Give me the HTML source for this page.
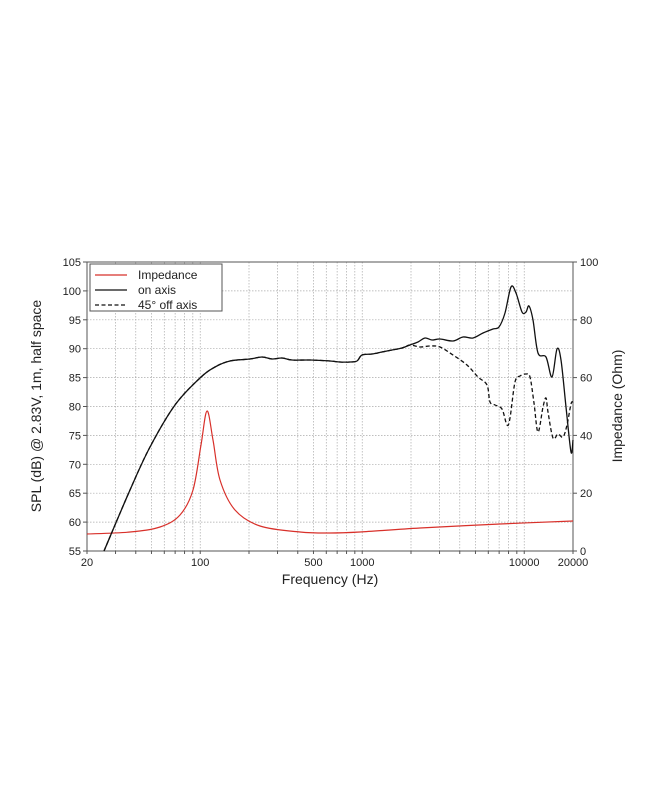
<!DOCTYPE html>
<html><head><meta charset="utf-8"><style>
body{margin:0;background:#fff;width:650px;height:794px;overflow:hidden}
svg text{font-family:"Liberation Sans",Arial,sans-serif;fill:#222}
</style></head><body>
<svg id="s" width="650" height="794" viewBox="0 0 650 794" xmlns="http://www.w3.org/2000/svg">
<g id="grid" stroke="#aaa" stroke-width="0.7" stroke-dasharray="1.5,1.5"></g>
<rect x="87" y="262" width="486" height="289" fill="none" stroke="#555" stroke-width="1"/>
<g id="ticks" stroke="#555" stroke-width="1"></g>
<g id="labels" font-size="11"></g>
<path id="red" fill="none" stroke="#d8302a" stroke-width="1.2"/>
<path id="dash" fill="none" stroke="#111" stroke-width="1.3" stroke-dasharray="4,2.5"/>
<path id="solid" fill="none" stroke="#111" stroke-width="1.3"/>
<rect x="90" y="264" width="132" height="47" fill="#fff" stroke="#555" stroke-width="1"/>
<line x1="95" y1="275" x2="127" y2="275" stroke="#d8302a" stroke-width="1.2"/>
<line x1="95" y1="290" x2="127" y2="290" stroke="#111" stroke-width="1.2"/>
<line x1="95" y1="305" x2="127" y2="305" stroke="#111" stroke-width="1.2" stroke-dasharray="4,2.5"/>
<text x="138" y="279" font-size="12">Impedance</text>
<text x="138" y="294" font-size="12">on axis</text>
<text x="138" y="309" font-size="12">45° off axis</text>
<text x="330" y="584" font-size="14" text-anchor="middle">Frequency (Hz)</text>
<text transform="translate(41,406) rotate(-90)" font-size="14" text-anchor="middle">SPL (dB) @ 2.83V, 1m, half space</text>
<text transform="translate(622,406) rotate(-90)" font-size="14" text-anchor="middle">Impedance (Ohm)</text>
</svg>
<script>
const X=f=>87+162*Math.log10(f/20), L=87,R=573,T=262,B=551;
const ns="http://www.w3.org/2000/svg";
function el(p,t,a,txt){const e=document.createElementNS(ns,t);for(const k in a)e.setAttribute(k,a[k]);if(txt!==undefined)e.textContent=txt;document.getElementById(p).appendChild(e);}
const fr=[];for(const d of [10,100,1000,10000])for(let m=1;m<10;m++){const f=d*m;if(f>=20&&f<=20000)fr.push(f);}
fr.push(20000);
fr.forEach(f=>{const x=X(f);if(x>L+1&&x<R-1)el('grid','line',{x1:x,y1:T,x2:x,y2:B});el('ticks','line',{x1:x,y1:B,x2:x,y2:B+3});});
for(let v=60;v<=100;v+=5){const y=B-(v-55)*289/50;el('grid','line',{x1:L,y1:y,x2:R,y2:y});}
for(let v=55;v<=105;v+=5){const y=B-(v-55)*289/50;el('ticks','line',{x1:L-4,y1:y,x2:L,y2:y});el('labels','text',{x:L-6,y:y+4,'text-anchor':'end'},v);}
for(let v=0;v<=100;v+=20){const y=B-v*289/100;el('ticks','line',{x1:R,y1:y,x2:R+4,y2:y});el('labels','text',{x:R+7,y:y+4},v);}
[[20,'20'],[100,'100'],[500,'500'],[1000,'1000'],[10000,'10000'],[20000,'20000']].forEach(([f,t])=>el('labels','text',{x:X(f),y:566,'text-anchor':'middle'},t));
function cr(p){let d='M'+p[0][0]+','+p[0][1];for(let i=0;i<p.length-1;i++){const p0=p[i-1]||p[i],p1=p[i],p2=p[i+1],p3=p[i+2]||p2;
d+=` C${p1[0]+(p2[0]-p0[0])/6},${p1[1]+(p2[1]-p0[1])/6} ${p2[0]-(p3[0]-p1[0])/6},${p2[1]-(p3[1]-p1[1])/6} ${p2[0]},${p2[1]}`;}return d;}
const common=[[104,551],[130,490],[150,447],[175,405],[200,378],[220,365],[240,360],[262,358],[268,356],[280,359],[290,358],[300,360],[320,360],[340,361],[350,362],[380,362],[400,361],[420,361],[440,361],[450,361],[456,356],[462,354],[472,354],[482,352],[492,350],[500,348],[506,346]];
// actual x positions scaled: image solid portion 360..440 -> recalc
const base=[[104,551],[130,490],[150,447],[175,405],[200,378],[215,367],[230,361],[250,359],[262,357],[272,359],[282,358],[292,360],[310,360],[330,361],[340,362],[350,362],[357,361],[362,355],[372,354],[382,352],[392,350],[402,348],[410,345]];
const solid=base.concat([[418,342],[425,338],[432,340],[440,339],[453,341],[463,337],[473,338],[483,333],[493,329],[499,327],[505,313],[511,287],[516,293],[522,312],[526,312],[529,306],[533,320],[538,353],[546,357],[552,377],[557,349],[561,360],[566,407],[571,452],[573,440]]);
const dash=base.concat([[420,347],[430,346],[440,347],[453,355],[467,365],[478,377],[487,385],[490,402],[495,405],[502,409],[507,425],[510,418],[515,382],[520,376],[526,374],[530,377],[534,403],[538,432],[543,407],[546,398],[548,412],[553,438],[558,434],[563,437],[567,425],[571,404],[573,402]]);
const red=[[87,534],[130,532],[160,527],[180,515],[193,490],[201,445],[207,411],[213,440],[220,480],[235,510],[260,526],[300,532],[330,533],[360,532],[420,528],[500,524],[573,521]];
document.getElementById('solid').setAttribute('d',cr(solid));
document.getElementById('dash').setAttribute('d',cr(dash));
document.getElementById('red').setAttribute('d',cr(red));
</script>
</body></html>
